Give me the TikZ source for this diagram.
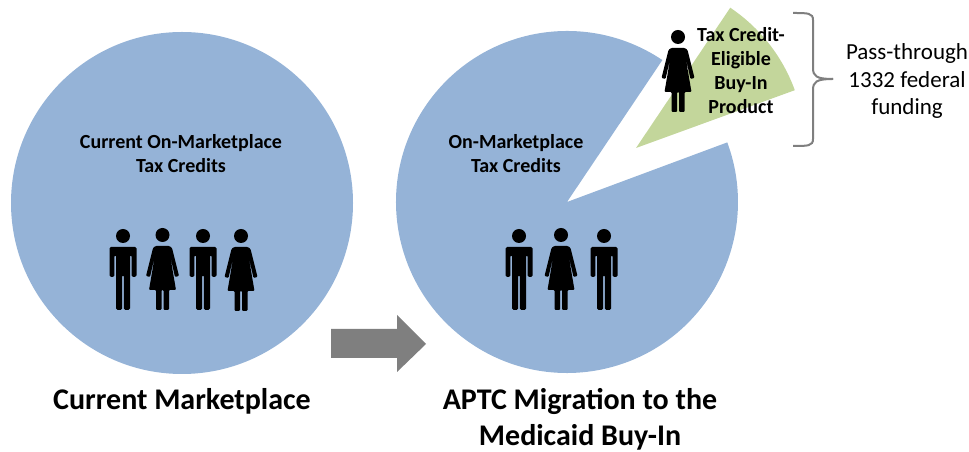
\documentclass[tikz,border=0pt]{standalone}
\usepackage{fontspec}
\setmainfont{Carlito}
\usepackage{tikz}
\definecolor{pieblue}{HTML}{95B3D7}
\definecolor{piegreen}{HTML}{C3D69B}
\definecolor{arrowgray}{HTML}{7F7F7F}
\begin{document}
\begin{tikzpicture}[x=1pt,y=1pt,
    label/.style={align=center,inner sep=0pt,font=\fontsize{20}{24}\selectfont\bfseries},
    heading/.style={align=center,inner sep=0pt,font=\fontsize{30}{36}\selectfont\bfseries},
    man/.pic={
        \fill (0,0) circle (7);
        \fill[rounded corners=1.5] (-13.5,-11) -- (13.5,-11) -- (13.5,-41) -- (8.7,-41) -- (8.7,-19) -- (7,-19) -- (7,-74) -- (0.8,-74) -- (0.8,-39) -- (-0.8,-39) -- (-0.8,-74) -- (-7,-74) -- (-7,-19) -- (-8.7,-19) -- (-8.7,-41) -- (-13.5,-41) -- cycle;
    },
    woman/.pic={
        \fill (0,0) circle (7);
        \fill[rounded corners=1] (-7,-11) -- (7,-11) -- (9.5,-13) -- (16.5,-41) -- (12.5,-42) -- (7.5,-20) -- (13.5,-55) -- (6.5,-55) -- (6.5,-75) -- (1,-75) -- (1,-55) -- (-1,-55) -- (-1,-75) -- (-6.5,-75) -- (-6.5,-55) -- (-13.5,-55) -- (-7.5,-20) -- (-12.5,-42) -- (-16.5,-41) -- (-9.5,-13) -- cycle;
    }]
    \useasboundingbox (0,0) rectangle (969,452);
    \node[circle,fill=pieblue,minimum size=342,inner sep=0pt] (current) at (182,249) {};
    \coordinate (pie) at (567,250);
    \coordinate (slice) at (636,304);
    \fill[pieblue] (pie) -- ++(56.1:171) arc[start angle=56.1,end angle=380.4,radius=171] -- cycle;
    \fill[piegreen] (slice) -- ++(56.1:169) arc[start angle=56.1,end angle=20,radius=169] -- cycle;
    \fill[arrowgray] (331,123) -- (397,123) -- (397,137) -- (426,108) -- (397,80) -- (397,94) -- (331,94) -- cycle;
    \pic at (123,216) {man};
    \pic at (162.5,217) {woman};
    \pic at (203,216) {man};
    \pic at (241,216) {woman};
    \pic at (519,216) {man};
    \pic at (561,217) {woman};
    \pic at (604,216) {man};
    \pic at (678,415) {woman};
    \node[label] (currentcredits) at (181,298) {Current On-Marketplace\\Tax Credits};
    \node[label] (buyincredits) at (516,298) {On-Marketplace\\Tax Credits};
    \node[label] (product) at (741,381) {Tax Credit-\\Eligible\\Buy-In\\Product};
    \node[align=center,inner sep=0pt,font=\fontsize{23}{27.5}\selectfont] (funding) at (907,371) {Pass-through\\1332 federal\\funding};
    \node[heading] (currentname) at (182,51) {Current Marketplace};
    \node[heading] (buyinname) at (580,33) {APTC Migration to the\\Medicaid Buy-In};
    \coordinate (bracetop) at (793,439);
    \coordinate (bracetip) at (833,373);
    \coordinate (bracebot) at (793,306);
    \draw[arrowgray,line width=2pt] (bracetop) .. controls (808,439) and (813,439) .. (813,432) -- (813,384) .. controls (813,376) and (816,373) .. (bracetip);
    \draw[arrowgray,line width=2pt] (bracebot) .. controls (808,306) and (813,306) .. (813,313) -- (813,362) .. controls (813,370) and (816,373) .. (bracetip);
\end{tikzpicture}
\end{document}
